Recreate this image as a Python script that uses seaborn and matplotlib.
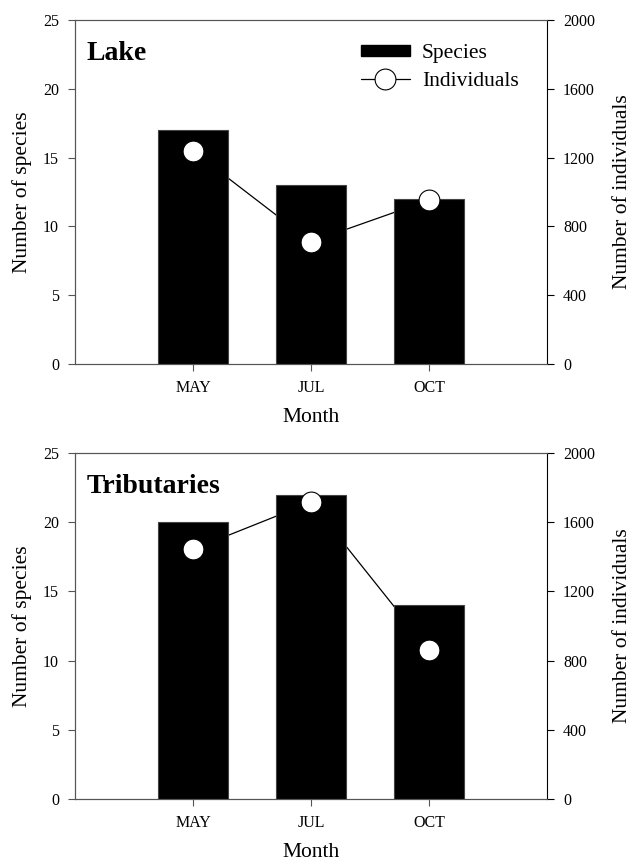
import matplotlib
matplotlib.use('Agg')
import matplotlib.pyplot as plt
import seaborn as sns
import pandas as pd
from matplotlib.patches import Patch
from matplotlib.lines import Line2D

months = ['MAY', 'JUL', 'OCT']
lake_species = [17, 13, 12]
lake_individuals = [1238, 711, 953]
trib_species = [20, 22, 14]
trib_individuals = [1443, 1715, 860]

sns.set_theme(style='ticks', rc={
    'axes.edgecolor': '#555555',
    'axes.linewidth': 0.8,
    'axes.labelcolor': 'black',
    'text.color': 'black',
    'xtick.color': '#555555',
    'ytick.color': '#555555',
    'xtick.labelcolor': 'black',
    'ytick.labelcolor': 'black',
    'xtick.major.size': 5,
    'ytick.major.size': 5,
    'xtick.major.width': 0.8,
    'ytick.major.width': 0.8,
    'xtick.major.pad': 6.5,
    'ytick.major.pad': 6.5,
})
plt.rcParams['font.family'] = ['Liberation Serif', 'DejaVu Serif']


def draw_panel(ax, species, individuals, title, show_legend=False):
    df = pd.DataFrame({'month': months, 'species': species, 'individuals': individuals,
                       'pos': range(len(months))})
    ax2 = ax.twinx()
    ax3 = ax.twinx()
    # line sits behind the bars, markers in front
    ax.set_zorder(1)
    ax2.set_zorder(0)
    ax3.set_zorder(2)
    ax.patch.set_visible(False)

    sns.barplot(data=df, x='month', y='species', ax=ax, color='black', width=0.6,
                saturation=1, edgecolor='#444444', linewidth=0.8)
    sns.lineplot(data=df, x='pos', y='individuals', ax=ax2, color='black', linewidth=0.9)
    sns.scatterplot(data=df, x='pos', y='individuals', ax=ax3, s=225, color='white',
                    edgecolor='black', linewidth=0.8, zorder=5, clip_on=False)

    ax.set_xlim(-1, 3)
    ax.set_ylim(0, 25)
    ax.set_yticks(range(0, 26, 5))
    ax.tick_params(axis='both', labelsize=11.5)
    ax.set_xlabel('Month', fontsize=15.5, labelpad=9)
    ax.set_ylabel('Number of species', fontsize=15.5, labelpad=8)
    ax.spines['right'].set_visible(False)

    ax2.set_ylim(0, 2000)
    ax2.set_yticks(range(0, 2001, 400))
    ax2.tick_params(axis='y', labelsize=11.5, color='black')
    ax2.set_ylabel('Number of individuals', fontsize=15.5, labelpad=13)
    ax2.spines['right'].set_color('black')

    ax3.set_ylim(0, 2000)
    ax3.axis('off')
    ax.set_xlim(-1, 3)

    ax.text(0.025, 0.885, title, transform=ax.transAxes, fontsize=20,
            fontweight='bold', va='baseline')

    if show_legend:
        handles = [Patch(facecolor='black', edgecolor='black'),
                   Line2D([], [], color='black', lw=0.9, marker='o', markersize=15,
                          markerfacecolor='white', markeredgecolor='black', markeredgewidth=0.8)]
        ax.legend(handles=handles, labels=['Species', 'Individuals'], loc='upper left',
                  bbox_to_anchor=(0.587, 0.955), borderaxespad=0, frameon=False,
                  fontsize=15.5, handlelength=2.28, handletextpad=0.56,
                  labelspacing=0.4, handleheight=0.47)


fig = plt.figure(figsize=(6.32, 8.64), dpi=100)
ax_top = fig.add_axes([0.1187, 0.5787, 0.7468, 0.398])
ax_bot = fig.add_axes([0.1187, 0.0752, 0.7468, 0.4005])

draw_panel(ax_top, lake_species, lake_individuals, 'Lake', show_legend=True)
draw_panel(ax_bot, trib_species, trib_individuals, 'Tributaries')

fig.savefig('out.png', dpi=100, facecolor='white')
